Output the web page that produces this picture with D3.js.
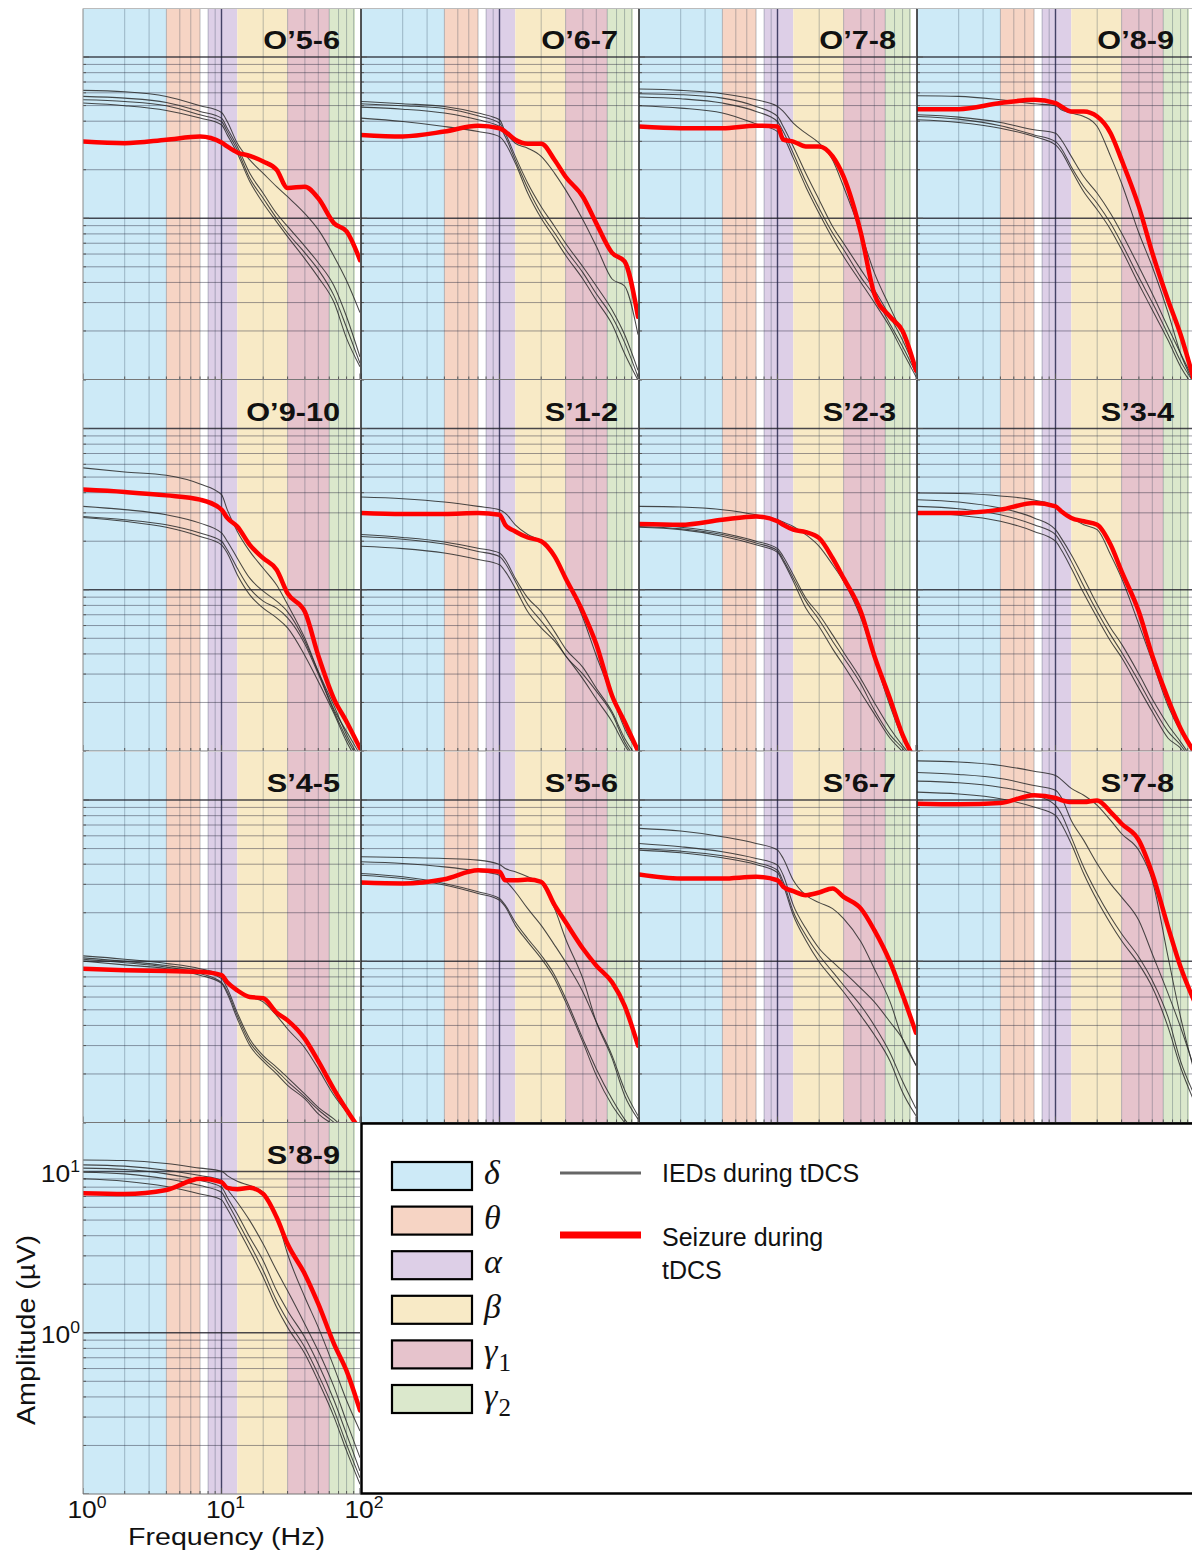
<!DOCTYPE html>
<html><head><meta charset="utf-8">
<script src="https://cdn.jsdelivr.net/npm/d3@7"></script>
<style>html,body{margin:0;padding:0;background:#fff;}svg{display:block;}</style>
</head><body>
<svg id="chart" width="1192" height="1555"></svg>
<script>
// ---------------- DATA ----------------
const FREQS = [1, 2, 4, 7, 10, 11, 13, 16, 20, 25, 30, 40, 50, 65, 80, 100];

const PANEL_NAMES = ["O\u20195-6","O\u20196-7","O\u20197-8","O\u20198-9","O\u20199-10","S\u20191-2","S\u20192-3","S\u20193-4","S\u20194-5","S\u20195-6","S\u20196-7","S\u20197-8","S\u20198-9"];

const ied_O5_6 = [
  [6.21, 6.09, 5.70, 4.99, 4.53, 3.98, 2.92, 2.30, 1.90, 1.57, 1.36, 1.07, 0.85, 0.58, 0.41, 0.26],
  [5.70, 5.56, 5.23, 4.60, 4.18, 3.62, 2.79, 1.90, 1.43, 1.07, 0.89, 0.67, 0.53, 0.38, 0.245, 0.138],
  [5.43, 5.30, 4.99, 4.38, 3.98, 3.45, 2.66, 1.77, 1.33, 1.00, 0.81, 0.61, 0.48, 0.33, 0.21, 0.126],
  [5.18, 4.99, 4.66, 4.18, 3.80, 3.29, 2.53, 1.69, 1.24, 0.95, 0.77, 0.56, 0.43, 0.30, 0.18, 0.12]];
const seizure_O5_6 = [2.99, 2.92, 3.07, 3.21, 2.95, 2.79, 2.56, 2.44, 2.25, 2.00, 1.54, 1.57, 1.33, 0.93, 0.83, 0.55];

const ied_O6_7 = [
  [5.30, 5.13, 4.94, 4.49, 4.08, 3.45, 2.92, 2.72, 2.42, 1.90, 1.50, 0.98, 0.67, 0.42, 0.38, 0.19],
  [5.13, 4.99, 4.80, 4.32, 3.89, 3.37, 2.42, 1.65, 1.18, 0.89, 0.70, 0.50, 0.38, 0.27, 0.19, 0.114],
  [4.89, 4.75, 4.49, 4.08, 3.71, 3.21, 2.30, 1.54, 1.07, 0.81, 0.64, 0.46, 0.34, 0.245, 0.17, 0.104],
  [4.18, 3.98, 3.71, 3.45, 3.21, 2.92, 2.20, 1.43, 1.00, 0.75, 0.59, 0.42, 0.31, 0.22, 0.145, 0.099]];
const seizure_O6_7 = [3.29, 3.22, 3.45, 3.75, 3.62, 3.45, 3.07, 2.90, 2.90, 2.30, 1.81, 1.36, 0.93, 0.61, 0.54, 0.245];

const ied_O7_8 = [
  [6.33, 6.21, 5.92, 5.43, 4.94, 4.60, 3.89, 3.37, 2.92, 2.30, 1.57, 0.81, 0.46, 0.28, 0.19, 0.12],
  [5.92, 5.84, 5.56, 4.94, 4.28, 3.71, 2.79, 1.90, 1.30, 0.89, 0.70, 0.48, 0.36, 0.245, 0.175, 0.114],
  [5.65, 5.51, 5.18, 4.60, 3.98, 3.45, 2.53, 1.69, 1.15, 0.81, 0.64, 0.43, 0.33, 0.22, 0.16, 0.109],
  [4.99, 4.82, 4.49, 3.85, 3.45, 3.21, 2.36, 1.57, 1.07, 0.75, 0.58, 0.40, 0.30, 0.21, 0.149, 0.104]];
const seizure_O7_8 = [3.71, 3.62, 3.62, 3.75, 3.71, 3.07, 2.99, 2.79, 2.79, 2.42, 1.81, 0.81, 0.34, 0.245, 0.20, 0.114];

const ied_O8_9 = [
  [5.75, 5.70, 5.43, 5.13, 4.99, 4.71, 4.49, 4.28, 3.71, 2.42, 1.65, 0.81, 0.50, 0.26, 0.145, 0.095],
  [4.38, 4.24, 3.93, 3.54, 3.37, 3.07, 2.42, 1.81, 1.43, 1.07, 0.81, 0.50, 0.34, 0.21, 0.145, 0.099],
  [4.28, 4.12, 3.75, 3.29, 2.99, 2.72, 2.09, 1.57, 1.24, 0.93, 0.70, 0.43, 0.30, 0.19, 0.13, 0.095],
  [4.08, 3.93, 3.62, 3.21, 2.85, 2.59, 2.00, 1.46, 1.13, 0.85, 0.64, 0.39, 0.27, 0.175, 0.12, 0.09]];
const seizure_O8_9 = [4.75, 4.75, 5.18, 5.43, 5.18, 4.94, 4.60, 4.60, 4.28, 3.37, 2.30, 1.18, 0.61, 0.31, 0.19, 0.099];

const ied_O9_10 = [
  [5.70, 5.38, 5.13, 4.53, 3.89, 3.14, 2.30, 1.73, 1.36, 1.07, 0.81, 0.50, 0.31, 0.18, 0.132, 0.095],
  [3.29, 3.14, 2.92, 2.59, 2.25, 2.00, 1.57, 1.18, 0.98, 0.85, 0.73, 0.48, 0.31, 0.19, 0.126, 0.09],
  [2.85, 2.72, 2.53, 2.25, 2.00, 1.77, 1.36, 1.02, 0.85, 0.77, 0.67, 0.46, 0.30, 0.175, 0.12, 0.086],
  [2.81, 2.66, 2.44, 2.14, 1.90, 1.69, 1.24, 0.93, 0.77, 0.67, 0.58, 0.39, 0.27, 0.17, 0.114, 0.082]];
const seizure_O9_10 = [4.18, 4.04, 3.85, 3.62, 3.14, 2.79, 2.47, 1.90, 1.57, 1.33, 0.95, 0.73, 0.39, 0.21, 0.152, 0.104];

const ied_S1_2 = [
  [3.76, 3.67, 3.50, 3.29, 3.14, 2.99, 2.53, 2.20, 2.00, 1.57, 1.18, 0.67, 0.39, 0.22, 0.138, 0.099],
  [2.20, 2.11, 1.98, 1.81, 1.69, 1.54, 1.18, 0.89, 0.73, 0.55, 0.43, 0.33, 0.245, 0.175, 0.12, 0.09],
  [2.14, 2.06, 1.92, 1.73, 1.61, 1.46, 1.13, 0.81, 0.64, 0.50, 0.39, 0.30, 0.235, 0.17, 0.114, 0.086],
  [1.86, 1.80, 1.69, 1.54, 1.43, 1.30, 1.02, 0.73, 0.58, 0.48, 0.39, 0.28, 0.21, 0.152, 0.109, 0.082]];
const seizure_S1_2 = [2.99, 2.95, 2.95, 2.99, 2.92, 2.53, 2.30, 2.11, 2.00, 1.61, 1.18, 0.73, 0.46, 0.22, 0.152, 0.10];

const ied_S2_3 = [
  [3.29, 3.26, 3.14, 2.92, 2.72, 2.63, 2.47, 2.20, 1.86, 1.43, 1.13, 0.67, 0.38, 0.19, 0.12, 0.086],
  [2.53, 2.44, 2.25, 2.00, 1.80, 1.61, 1.24, 0.89, 0.70, 0.525, 0.41, 0.28, 0.20, 0.138, 0.108, 0.086],
  [2.47, 2.39, 2.20, 1.95, 1.75, 1.54, 1.18, 0.85, 0.65, 0.48, 0.38, 0.26, 0.18, 0.126, 0.104, 0.082],
  [2.44, 2.36, 2.15, 1.90, 1.71, 1.50, 1.13, 0.77, 0.59, 0.43, 0.34, 0.23, 0.17, 0.12, 0.099, 0.078]];
const seizure_S2_3 = [2.56, 2.53, 2.72, 2.85, 2.66, 2.53, 2.36, 2.28, 2.09, 1.57, 1.18, 0.73, 0.39, 0.21, 0.126, 0.086];

const ied_S3_4 = [
  [3.98, 3.95, 3.82, 3.60, 3.29, 3.07, 2.79, 2.53, 2.36, 1.65, 1.18, 0.61, 0.36, 0.19, 0.132, 0.099],
  [3.62, 3.50, 3.21, 2.79, 2.36, 2.09, 1.65, 1.18, 0.81, 0.58, 0.46, 0.30, 0.21, 0.145, 0.114, 0.086],
  [3.29, 3.18, 2.92, 2.53, 2.20, 1.95, 1.50, 1.05, 0.73, 0.525, 0.41, 0.27, 0.19, 0.132, 0.109, 0.082],
  [2.99, 2.90, 2.66, 2.30, 2.00, 1.77, 1.36, 0.95, 0.67, 0.48, 0.38, 0.245, 0.175, 0.12, 0.104, 0.078]];
const seizure_S3_4 = [2.99, 2.99, 3.14, 3.45, 3.29, 3.07, 2.79, 2.66, 2.53, 1.90, 1.30, 0.73, 0.39, 0.21, 0.138, 0.099];

const ied_S4_5 = [
  [1.08, 1.03, 0.97, 0.90, 0.82, 0.74, 0.65, 0.60, 0.56, 0.46, 0.38, 0.29, 0.215, 0.147, 0.116, 0.09],
  [1.05, 1.00, 0.94, 0.87, 0.78, 0.68, 0.48, 0.33, 0.26, 0.22, 0.19, 0.15, 0.124, 0.105, 0.09, 0.083],
  [1.03, 0.98, 0.92, 0.84, 0.74, 0.65, 0.46, 0.315, 0.25, 0.21, 0.18, 0.144, 0.12, 0.10, 0.087, 0.079],
  [1.00, 0.95, 0.90, 0.82, 0.73, 0.63, 0.44, 0.30, 0.24, 0.20, 0.17, 0.14, 0.113, 0.096, 0.083, 0.076]];
const seizure_S4_5 = [0.90, 0.88, 0.87, 0.86, 0.82, 0.74, 0.66, 0.60, 0.59, 0.48, 0.43, 0.33, 0.24, 0.16, 0.12, 0.09];

const ied_S5_6 = [
  [4.45, 4.40, 4.34, 4.24, 3.98, 3.76, 3.59, 3.34, 3.04, 2.12, 1.38, 0.78, 0.42, 0.25, 0.147, 0.105],
  [4.14, 4.04, 3.85, 3.62, 3.42, 3.18, 2.70, 2.12, 1.67, 1.26, 0.99, 0.645, 0.42, 0.26, 0.16, 0.11],
  [3.50, 3.34, 3.04, 2.70, 2.45, 2.23, 1.75, 1.38, 1.09, 0.82, 0.59, 0.33, 0.215, 0.14, 0.105, 0.083],
  [3.42, 3.26, 2.97, 2.63, 2.39, 2.18, 1.67, 1.32, 1.04, 0.78, 0.56, 0.315, 0.196, 0.128, 0.10, 0.08]];
const seizure_S5_6 = [3.08, 3.04, 3.23, 3.67, 3.59, 3.18, 3.18, 3.21, 3.11, 2.23, 1.75, 1.20, 0.94, 0.74, 0.53, 0.30];

const ied_S6_7 = [
  [6.67, 6.42, 5.92, 5.38, 4.89, 4.34, 3.18, 2.57, 2.31, 2.12, 1.84, 1.32, 0.90, 0.56, 0.33, 0.226],
  [5.38, 5.13, 4.78, 4.34, 3.95, 3.42, 2.23, 1.60, 1.20, 0.99, 0.86, 0.68, 0.56, 0.42, 0.33, 0.226],
  [5.01, 4.82, 4.51, 4.10, 3.67, 3.11, 2.03, 1.45, 1.09, 0.86, 0.71, 0.53, 0.40, 0.27, 0.18, 0.122],
  [4.89, 4.71, 4.38, 3.98, 3.55, 2.97, 1.93, 1.35, 0.99, 0.78, 0.645, 0.46, 0.35, 0.24, 0.154, 0.11]];
const seizure_S6_7 = [3.45, 3.26, 3.26, 3.34, 3.18, 2.90, 2.72, 2.57, 2.67, 2.83, 2.51, 2.12, 1.56, 0.99, 0.62, 0.36];

const ied_S7_8 = [
  [17.5, 17.2, 16.4, 15.1, 14.2, 13.4, 11.8, 10.7, 9.27, 7.47, 6.18, 4.87, 3.17, 1.06, 0.45, 0.21],
  [14.8, 14.4, 13.6, 12.3, 11.5, 10.4, 7.47, 5.62, 4.02, 3.02, 2.50, 1.79, 1.11, 0.63, 0.39, 0.22],
  [13.1, 12.8, 12.0, 10.8, 9.27, 8.23, 5.89, 3.83, 2.62, 1.88, 1.48, 1.06, 0.76, 0.45, 0.24, 0.15],
  [11.2, 10.9, 10.2, 9.05, 8.03, 7.13, 5.35, 3.49, 2.38, 1.71, 1.34, 0.96, 0.69, 0.39, 0.22, 0.136]];
const seizure_S7_8 = [9.49, 9.40, 9.58, 10.7, 10.3, 10.0, 9.72, 9.72, 9.95, 8.42, 7.13, 5.62, 3.49, 1.63, 0.92, 0.57];

const ied_S8_9 = [
  [11.8, 11.7, 11.2, 10.5, 10.05, 9.44, 8.71, 8.18, 7.44, 5.20, 3.08, 1.66, 1.08, 0.61, 0.38, 0.246],
  [11.0, 10.8, 10.2, 9.44, 8.80, 7.80, 6.45, 4.96, 3.55, 2.43, 1.82, 1.13, 0.77, 0.46, 0.28, 0.168],
  [10.5, 10.3, 9.67, 8.80, 7.99, 6.93, 5.46, 3.91, 2.80, 1.82, 1.37, 0.935, 0.64, 0.38, 0.235, 0.139],
  [9.91, 9.67, 9.01, 8.18, 7.44, 6.45, 4.96, 3.55, 2.43, 1.58, 1.19, 0.81, 0.55, 0.33, 0.203, 0.126],
  [9.01, 8.71, 8.07, 7.26, 6.67, 5.87, 4.51, 3.23, 2.21, 1.44, 1.08, 0.74, 0.50, 0.30, 0.185, 0.115]];
const seizure_S8_9 = [7.33, 7.26, 7.69, 9.01, 8.59, 7.92, 7.77, 7.92, 7.26, 5.20, 3.55, 2.31, 1.51, 0.85, 0.58, 0.33];

const IED_SETS = [ied_O5_6, ied_O6_7, ied_O7_8, ied_O8_9, ied_O9_10, ied_S1_2, ied_S2_3, ied_S3_4, ied_S4_5, ied_S5_6, ied_S6_7, ied_S7_8, ied_S8_9];
const SEIZURE_SETS = [seizure_O5_6, seizure_O6_7, seizure_O7_8, seizure_O8_9, seizure_O9_10, seizure_S1_2, seizure_S2_3, seizure_S3_4, seizure_S4_5, seizure_S5_6, seizure_S6_7, seizure_S7_8, seizure_S8_9];

// frequency bands (Hz)
const BAND_SYMBOLS = ["\u03B4", "\u03B8", "\u03B1", "\u03B2", "\u03B3", "\u03B3"];
const BAND_SUBSCRIPTS = ["", "", "", "", "1", "2"];
const BAND_LO = [1, 4, 8, 13, 30, 60];
const BAND_HI = [4, 7, 13, 30, 60, 92];
const BAND_COLORS = ["#cdeaf7", "#f6d4c4", "#ddcfe7", "#f8eac6", "#e6c3cc", "#dbe8cc"];

const X_TICKS = [1, 10, 100];
const X_TICK_EXP = ["0", "1", "2"];
const Y_TICKS = [1, 10];
const Y_TICK_EXP = ["0", "1"];

const LEGEND_LINES = ["IEDs during tDCS", "Seizure during", "tDCS"];

// ---------------- DRAWING ----------------
const svg = d3.select("#chart");
const W = 277, H = 371;
const COL_STEP = 278, ROW_STEP = 371.5, X0 = 83, Y0 = 8.5;

const x = d3.scaleLog().domain([1, 100]).range([0, W]);
const y = d3.scaleLog().domain([0.1, 20]).range([H, 0]);
const isMajor = v => Math.abs(Math.log10(v) - Math.round(Math.log10(v))) < 1e-9;

const line = d3.line()
  .x((d, i) => x(FREQS[i]))
  .y(d => y(d))
  .curve(d3.curveMonotoneX);

const defs = svg.append("defs");
defs.append("clipPath").attr("id", "panelClip")
  .append("rect").attr("x", 0).attr("y", 0).attr("width", W).attr("height", H);

const xMinor = x.ticks().filter(v => v > 1 && v < 100 && !isMajor(v));
const yMinor = y.ticks().filter(v => v > 0.1 && v < 20 && !isMajor(v));
const xMajorInner = [10];
const yMajorInner = y.ticks().filter(v => isMajor(v) && v > 0.1 && v < 20);

PANEL_NAMES.forEach((name, k) => {
  const col = k % 4, row = Math.floor(k / 4);
  const px = X0 + col * COL_STEP, py = Y0 + row * ROW_STEP;
  const g = svg.append("g").attr("transform", `translate(${px},${py})`);
  const inner = g.append("g").attr("clip-path", "url(#panelClip)");

  inner.append("rect").attr("width", W).attr("height", H).attr("fill", "#fff");

  inner.selectAll("rect.band").data(BAND_LO).join("rect").attr("class", "band")
    .attr("x", d => x(d)).attr("y", 0)
    .attr("width", (d, i) => x(BAND_HI[i]) - x(d)).attr("height", H)
    .attr("fill", (d, i) => BAND_COLORS[i]);

  // minor grid
  inner.selectAll("line.vmin").data(xMinor).join("line").attr("class", "vmin")
    .attr("x1", d => x(d)).attr("x2", d => x(d)).attr("y1", 0).attr("y2", H)
    .attr("stroke", "rgba(40,60,80,0.3)").attr("stroke-width", 1);
  inner.selectAll("line.hmin").data(yMinor).join("line").attr("class", "hmin")
    .attr("y1", d => y(d)).attr("y2", d => y(d)).attr("x1", 0).attr("x2", W)
    .attr("stroke", "rgba(40,40,60,0.45)").attr("stroke-width", 1);
  // major grid
  inner.selectAll("line.vmaj").data(xMajorInner).join("line").attr("class", "vmaj")
    .attr("x1", d => x(d)).attr("x2", d => x(d)).attr("y1", 0).attr("y2", H)
    .attr("stroke", "rgba(30,30,70,0.8)").attr("stroke-width", 1.4);
  inner.selectAll("line.hmaj").data(yMajorInner).join("line").attr("class", "hmaj")
    .attr("y1", d => y(d)).attr("y2", d => y(d)).attr("x1", 0).attr("x2", W)
    .attr("stroke", "rgba(30,30,40,0.8)").attr("stroke-width", 1.4);

  // inward ticks
  inner.selectAll("line.ly").data(y.ticks()).join("line").attr("class", "ly")
    .attr("x1", 0).attr("x2", d => isMajor(d) ? 6 : 3)
    .attr("y1", d => y(d)).attr("y2", d => y(d))
    .attr("stroke", "#555").attr("stroke-width", 1);
  inner.selectAll("line.bx").data(x.ticks()).join("line").attr("class", "bx")
    .attr("y1", H).attr("y2", d => H - (isMajor(d) ? 6 : 3))
    .attr("x1", d => x(d)).attr("x2", d => x(d))
    .attr("stroke", "#555").attr("stroke-width", 1);

  // IED curves
  inner.selectAll("path.ied").data(IED_SETS[k]).join("path").attr("class", "ied")
    .attr("d", line).attr("fill", "none")
    .attr("stroke", "#2a2a2a").attr("stroke-opacity", 0.85).attr("stroke-width", 1.05);
  // seizure curve
  inner.append("path").datum(SEIZURE_SETS[k])
    .attr("d", line).attr("fill", "none")
    .attr("stroke", "#ff0000").attr("stroke-width", 4.5)
    .attr("stroke-linejoin", "round").attr("stroke-linecap", "round");

  // frame
  g.append("line").attr("x1", 0).attr("x2", 0).attr("y1", 0).attr("y2", H)
    .attr("stroke", col === 0 ? "#888" : "#2a2a2a").attr("stroke-width", col === 0 ? 1 : 1.6);
  g.append("line").attr("x1", 0).attr("x2", W).attr("y1", H).attr("y2", H)
    .attr("stroke", "#777").attr("stroke-width", 1);
  if (row === 0) {
    g.append("line").attr("x1", 0).attr("x2", W).attr("y1", 0).attr("y2", 0)
      .attr("stroke", "#bbb").attr("stroke-width", 1);
  }

  // title
  g.append("text")
    .attr("transform", `translate(${W - 20},40.5) scale(1.18,1)`)
    .attr("text-anchor", "end")
    .attr("font-family", "'Liberation Sans', Arial, sans-serif")
    .attr("font-weight", "bold").attr("font-size", 26).attr("fill", "#111")
    .text(name);
});

// ---------------- axes labels (bottom-left panel) ----------------
const lastRowTop = Y0 + 3 * ROW_STEP;
const axisFont = "'Liberation Sans', Arial, sans-serif";

Y_TICKS.forEach((v, i) => {
  const t = svg.append("text")
    .attr("transform", `translate(80,${lastRowTop + y(v) + 10}) scale(1.1,1)`)
    .attr("text-anchor", "end").attr("font-family", axisFont).attr("font-size", 24).attr("fill", "#111");
  t.append("tspan").text("10");
  t.append("tspan").attr("font-size", 16).attr("dy", -10).text(Y_TICK_EXP[i]);
});

X_TICKS.forEach((v, i) => {
  const t = svg.append("text")
    .attr("transform", `translate(${X0 + x(v) + 4},1518) scale(1.1,1)`)
    .attr("text-anchor", "middle").attr("font-family", axisFont).attr("font-size", 24).attr("fill", "#111");
  t.append("tspan").text("10");
  t.append("tspan").attr("font-size", 16).attr("dy", -10).text(X_TICK_EXP[i]);
});

svg.append("text").attr("x", 226.5).attr("y", 1545)
  .attr("text-anchor", "middle").attr("font-family", axisFont).attr("font-size", 23).attr("fill", "#111")
  .attr("textLength", 197).attr("lengthAdjust", "spacingAndGlyphs")
  .text("Frequency (Hz)");

svg.append("text").attr("transform", `translate(35,1330) rotate(-90)`)
  .attr("text-anchor", "middle").attr("font-family", axisFont).attr("font-size", 25).attr("fill", "#111")
  .attr("textLength", 190).attr("lengthAdjust", "spacingAndGlyphs")
  .text("Amplitude (\u00B5V)");

// ---------------- legend ----------------
const lg = svg.append("g");
lg.append("rect").attr("x", 361.5).attr("y", 1123.5).attr("width", 900).attr("height", 370)
  .attr("fill", "#fff").attr("stroke", "#000").attr("stroke-width", 2.5);

BAND_SYMBOLS.forEach((s, i) => {
  const top = 1162 + i * 44.6;
  lg.append("rect").attr("x", 392).attr("y", top).attr("width", 80).attr("height", 28)
    .attr("fill", BAND_COLORS[i]).attr("stroke", "#000").attr("stroke-width", 2.2);
  const t = lg.append("text").attr("x", 484).attr("y", top + 22)
    .attr("font-family", "'Liberation Serif', 'Times New Roman', serif")
    .attr("font-style", "italic").attr("font-size", 34).attr("fill", "#111");
  t.append("tspan").text(s);
  if (BAND_SUBSCRIPTS[i]) {
    t.append("tspan").attr("font-style", "normal").attr("font-size", 25).attr("dy", 9).attr("dx", 1)
      .text(BAND_SUBSCRIPTS[i]);
  }
});

lg.append("line").attr("x1", 560).attr("x2", 641).attr("y1", 1173).attr("y2", 1173)
  .attr("stroke", "#666").attr("stroke-width", 3.2);
lg.append("line").attr("x1", 560).attr("x2", 641).attr("y1", 1235).attr("y2", 1235)
  .attr("stroke", "#ff0000").attr("stroke-width", 7);

lg.append("text").attr("x", 662).attr("y", 1182)
  .attr("font-family", axisFont).attr("font-size", 25).attr("fill", "#111").text(LEGEND_LINES[0]);
const st = lg.append("text").attr("x", 662).attr("y", 1246)
  .attr("font-family", axisFont).attr("font-size", 25).attr("fill", "#111");
st.append("tspan").attr("x", 662).text(LEGEND_LINES[1]);
st.append("tspan").attr("x", 662).attr("dy", 33).text(LEGEND_LINES[2]);
</script>
</body></html>
